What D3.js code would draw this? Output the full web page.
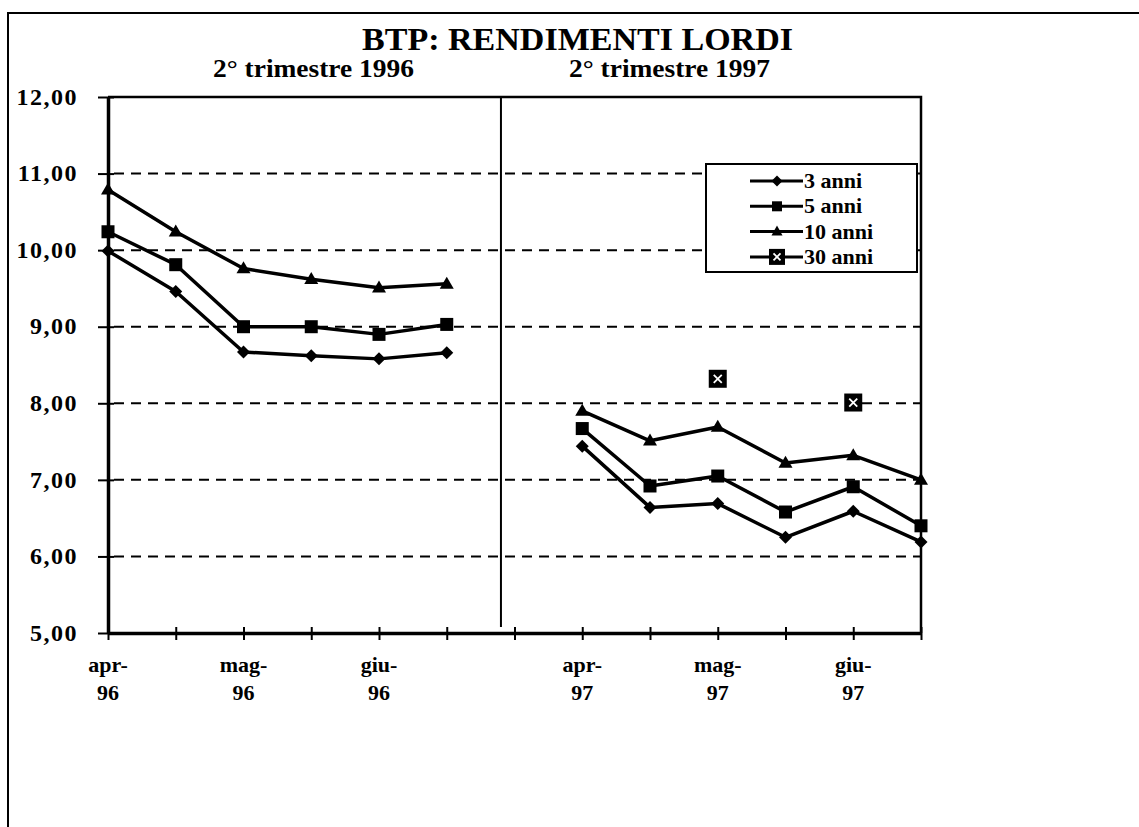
<!DOCTYPE html>
<html>
<head>
<meta charset="utf-8">
<script src="https://cdn.jsdelivr.net/npm/d3@7"></script>
<style>
  body { margin: 0; background: #fff; }
  svg { display: block; }
  svg text { font-family: "Liberation Serif", "Times New Roman", "DejaVu Serif", serif; font-weight: bold; fill: #000; }
</style>
</head>
<body>
<div id="chart"></div>
<script>
// periods: two half-months per month, one empty slot between the two years
const periods = ["apr-96a", "apr-96b", "mag-96a", "mag-96b", "giu-96a", "giu-96b", "gap",
                 "apr-97a", "apr-97b", "mag-97a", "mag-97b", "giu-97a", "giu-97b"];
const tickLabels = [["apr-", "96"], null, ["mag-", "96"], null, ["giu-", "96"], null, null,
                    ["apr-", "97"], null, ["mag-", "97"], null, ["giu-", "97"], null];
const yTicks = [5, 6, 7, 8, 9, 10, 11, 12];
const gridValues = [6, 7, 8, 9, 10, 11];

// gross yields (%)
const anni3  = [9.99, 9.46, 8.67, 8.62, 8.58, 8.66, null, 7.44, 6.64, 6.69, 6.25, 6.59, 6.19];
const anni5  = [10.24, 9.81, 9.00, 9.00, 8.90, 9.03, null, 7.67, 6.92, 7.05, 6.58, 6.91, 6.40];
const anni10 = [10.79, 10.24, 9.76, 9.62, 9.51, 9.56, null, 7.90, 7.51, 7.69, 7.22, 7.32, 7.00];
const anni30 = [null, null, null, null, null, null, null, null, null, 8.32, null, 8.01, null];

const seriesNames = ["3 anni", "5 anni", "10 anni", "30 anni"];
const seriesMarkers = ["diamond", "square", "triangle", "boxx"];
const seriesValues = [anni3, anni5, anni10, anni30];

const title = "BTP: RENDIMENTI LORDI";
const subtitles = ["2° trimestre 1996", "2° trimestre 1997"];
const dividerAt = 5.8; // separator between the two years, in period units

const width = 1139, height = 827;
const margin = {top: 97, left: 108, right: 218, bottom: 194};

const svg = d3.select("#chart").append("svg")
    .attr("width", width)
    .attr("height", height);

// outer frame of the page (top and left edges)
svg.append("path")
    .attr("d", `M8,${height} V13 H${width}`)
    .attr("fill", "none")
    .attr("stroke", "#000")
    .attr("stroke-width", 2);

const xScale = d3.scaleLinear()
    .domain([0, periods.length - 1])
    .range([margin.left, width - margin.right]);

const yScale = d3.scaleLinear()
    .domain([5, 12])
    .range([height - margin.bottom, margin.top]);

const x0 = xScale.range()[0], x1 = xScale.range()[1];
const yBottom = yScale(5), yTop = yScale(12);

// titles
svg.append("text")
    .attr("x", 362).attr("y", 50)
    .style("font-size", "31px")
    .attr("textLength", 431)
    .attr("lengthAdjust", "spacingAndGlyphs")
    .text(title);

svg.selectAll(".subtitle")
    .data(subtitles)
    .enter().append("text")
    .attr("class", "subtitle")
    .attr("x", (d, i) => i == 0 ? 213 : 569)
    .attr("y", 77)
    .style("font-size", "25px")
    .attr("textLength", 201)
    .attr("lengthAdjust", "spacingAndGlyphs")
    .text(d => d);

// dashed grid
svg.append("g").selectAll("line")
    .data(gridValues)
    .enter().append("line")
    .attr("x1", x0 + 6).attr("x2", x1)
    .attr("y1", d => yScale(d)).attr("y2", d => yScale(d))
    .attr("stroke", "#000")
    .attr("stroke-width", 2)
    .attr("stroke-dasharray", "10,7");

// plot frame: top and right
svg.append("path")
    .attr("d", `M${x0},${yTop} H${x1} V${yBottom}`)
    .attr("fill", "none")
    .attr("stroke", "#000")
    .attr("stroke-width", 2.5);

// year divider
svg.append("line")
    .attr("x1", xScale(dividerAt)).attr("x2", xScale(dividerAt))
    .attr("y1", yTop).attr("y2", yBottom - 6)
    .attr("stroke", "#000")
    .attr("stroke-width", 2);

// y axis
const yAxis = d3.axisLeft(yScale)
    .tickValues(yTicks)
    .tickSizeOuter(0)
    .tickPadding(24)
    .tickFormat(d => d3.format(".2f")(d).replace(".", ","));

const gy = svg.append("g")
    .attr("transform", `translate(${x0},0)`)
    .call(yAxis);
gy.select(".domain").attr("stroke-width", 3.5);
gy.selectAll(".tick line").attr("x1", 6).attr("x2", -10).attr("stroke-width", 2);
gy.selectAll(".tick text")
    .style("font-size", "24px")
    .style("letter-spacing", "1.5px")
    .attr("dy", "0.3em");

// x axis
const xAxis = d3.axisBottom(xScale)
    .tickValues(d3.range(periods.length))
    .tickSizeOuter(0)
    .tickFormat("");

const gx = svg.append("g")
    .attr("transform", `translate(0,${yBottom})`)
    .call(xAxis);
gx.select(".domain").attr("stroke-width", 3.5);
gx.selectAll(".tick line").attr("y1", -6).attr("y2", 7).attr("stroke-width", 2);

const xl = svg.append("g").selectAll("text")
    .data(tickLabels.map((t, i) => ({t: t, i: i})).filter(d => d.t))
    .enter().append("text")
    .attr("text-anchor", "middle")
    .style("font-size", "22px");
xl.append("tspan")
    .attr("x", d => xScale(d.i))
    .attr("y", yBottom + 39)
    .text(d => d.t[0]);
xl.append("tspan")
    .attr("x", d => xScale(d.i))
    .attr("y", yBottom + 67)
    .text(d => d.t[1]);

// markers
function drawMarker(g, type, cx, cy, big) {
    if (type == "diamond") {
        let r = big ? 6.5 : 5.5;
        g.append("path")
            .attr("d", `M${cx},${cy - r} L${cx + r},${cy} L${cx},${cy + r} L${cx - r},${cy} Z`)
            .attr("fill", "#000");
    } else if (type == "square") {
        let s = big ? 13 : 10;
        g.append("rect")
            .attr("x", cx - s / 2).attr("y", cy - s / 2)
            .attr("width", s).attr("height", s)
            .attr("fill", "#000");
    } else if (type == "triangle") {
        let w = big ? 14 : 11, h = big ? 12 : 10;
        g.append("path")
            .attr("d", `M${cx},${cy - h * 0.6} L${cx + w / 2},${cy + h * 0.4} L${cx - w / 2},${cy + h * 0.4} Z`)
            .attr("fill", "#000");
    } else {
        let s = big ? 18 : 16, k = big ? 4 : 3.5;
        g.append("rect")
            .attr("x", cx - s / 2).attr("y", cy - s / 2)
            .attr("width", s).attr("height", s)
            .attr("fill", "#000");
        g.append("path")
            .attr("d", `M${cx - k},${cy - k} L${cx + k},${cy + k} M${cx + k},${cy - k} L${cx - k},${cy + k}`)
            .attr("stroke", "#fff")
            .attr("stroke-width", 1.8);
    }
}

const line = d3.line()
    .defined(d => d.v != null)
    .x(d => xScale(d.i))
    .y(d => yScale(d.v));

seriesValues.forEach((vals, s) => {
    let pts = vals.map((v, i) => ({v: v, i: i}));
    let g = svg.append("g");
    if (seriesMarkers[s] != "boxx") {
        g.append("path")
            .attr("d", line(pts))
            .attr("fill", "none")
            .attr("stroke", "#000")
            .attr("stroke-width", 3.5)
            .attr("stroke-linejoin", "round");
    }
    pts.filter(d => d.v != null).forEach(d => {
        drawMarker(g, seriesMarkers[s], xScale(d.i), yScale(d.v), true);
    });
});

// legend
const legend = svg.append("g");
legend.append("rect")
    .attr("x", 706).attr("y", 164)
    .attr("width", 211).attr("height", 108)
    .attr("fill", "#fff")
    .attr("stroke", "#000")
    .attr("stroke-width", 2);

seriesNames.forEach((name, i) => {
    let cy = 181 + i * 25.3;
    legend.append("line")
        .attr("x1", 750).attr("x2", 803)
        .attr("y1", cy).attr("y2", cy)
        .attr("stroke", "#000")
        .attr("stroke-width", 3);
    drawMarker(legend, seriesMarkers[i], 777, cy, false);
    legend.append("text")
        .attr("x", 804).attr("y", cy + 7)
        .style("font-size", "22px")
        .text(name);
});
</script>
</body>
</html>
